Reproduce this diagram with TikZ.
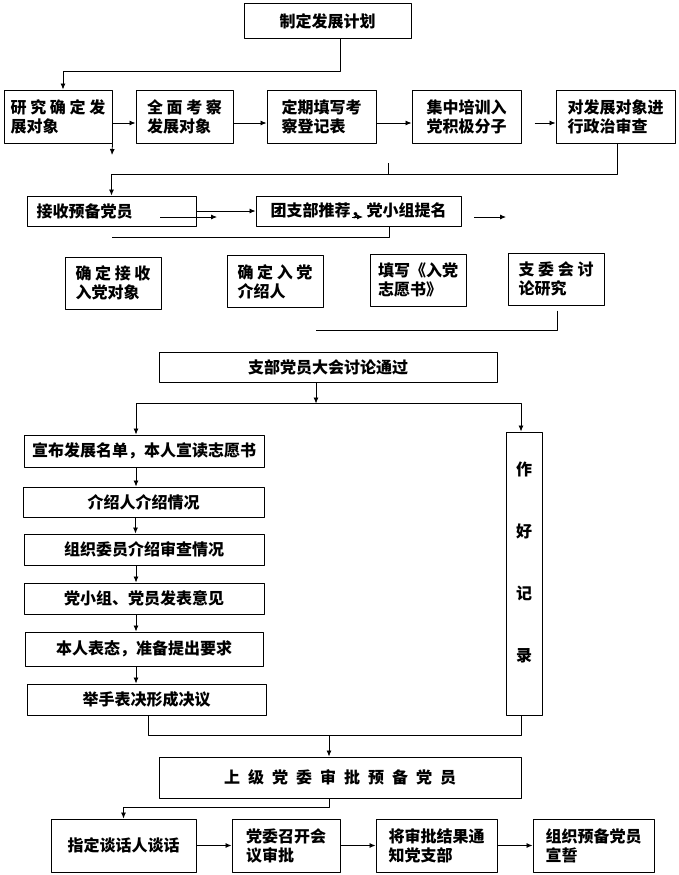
\documentclass[tikz,border=0pt]{standalone}
\usepackage{fontspec}
\setmainfont{Noto Sans CJK SC}
\usetikzlibrary{arrows.meta}
\def\gap{\hspace{8pt}}
\begin{document}
\begin{tikzpicture}[x=1pt,y=-1pt,font=\fontsize{16}{19}\selectfont\bfseries,line join=round,>={Latex[length=6pt,width=5pt]},
  box/.style={draw,line width=1pt,inner sep=0pt,align=left},
  every path/.append style={line width=0.8pt}]
\useasboundingbox (0,0) rectangle (678,875);
% boxes
\node[box,minimum width=167,minimum height=35] (plan) at (327.5,21.5) {制定发展计划};
\foreach \n/\x/\w/\txt in {r1a/58/108/{研 究 确 定 发\\展对象},r1b/184.5/97/{全 面 考 察\\发展对象},r1c/321.5/109/{定期填写考\\察登记表},r1d/466.5/109/{集中培训入\\党积极分子},r1e/615.5/119/{对发展对象进\\行政治审查}}
  \node[box,minimum width=\w,minimum height=53] (\n) at (\x,116.5) {\txt};
\node[box,minimum width=169,minimum height=30,text width=150pt] (r2a) at (111.5,211) {接收预备党员};
\node[box,minimum width=205,minimum height=30] (r2b) at (358.5,211) {团支部推荐，党小组提名};
\foreach \n/\x/\y/\txt in {r3a/113/283/{确 定 接 收\\入党对象},r3b/275/281.5/{确 定 入 党\\介绍人},r3c/418/280/{填写《入党\\志愿书》},r3d/556/279/{支 委 会 讨\\论研究}}
  \node[box,minimum width=96,minimum height=52] (\n) at (\x,\y) {\txt};
\node[box,minimum width=338,minimum height=30] (meeting) at (328,367) {支部党员大会讨论通过};
\foreach \n/\x/\y/\w/\h/\txt in {s1/144/451/240/32/{宣布发展名单，本人宣读志愿书},s2/143.5/502/241/30/{介绍人介绍情况},s3/144/549.5/240/31/{组织委员介绍审查情况},s4/144/598.5/240/31/{党小组、党员发表意见},s5/144/649/238/34/{本人表态，准备提出要求},s6/146.5/699.5/239/31/{举手表决形成决议}}
  \node[box,minimum width=\w,minimum height=\h] (\n) at (\x,\y) {\txt};
\node[box,align=center,minimum width=36,minimum height=283,text depth=24pt] (rec) at (524,573.5) {作\\[43pt]好\\[43pt]记\\[43pt]录};
\node[box,minimum width=362,minimum height=41] (approve) at (340,777.5) {上\gap{}级\gap{}党\gap{}委\gap{}审\gap{}批\gap{}预\gap{}备\gap{}党\gap{}员};
\foreach \n/\x/\w/\txt in {b1/123.5/145/{指定谈话人谈话},b2/286/108/{党委召开会\\议审批},b3/436.5/121/{将审批结果通\\知党支部},b4/593.5/121/{组织预备党员\\宣誓}}
  \node[box,minimum width=\w,minimum height=53] (\n) at (\x,845.5) {\txt};
% connectors
\draw[->] ([xshift=12.5pt]plan.south) -- ++(0,32) -| ([xshift=5pt]r1a.north);
\foreach \a/\b in {r1a/r1b,r1b/r1c,r1c/r1d}\draw[->] ([yshift=-6.5pt]\a.east) -- ([yshift=-6.5pt]\b.west);
\draw[->] ([xshift=13pt,yshift=-6.5pt]r1d.east) -- ([yshift=-6.5pt]r1e.west);
\coordinate (d1) at (112,155);
\draw[->] (r1a.south east) -- (d1);
\draw[->] ([xshift=1.5pt]r1e.south) -- ++(0,31) -| (r2a.north);
\coordinate (st) at (388,163);
\draw (st) -- ++(0,11);
\draw[->] (r2a.east) -- (r2b.west);
\foreach \i/\x/\X in {1/160/217,2/352/363,3/474/506}{\coordinate (p\i) at (\x,217); \coordinate (q\i) at (\X,217); \draw[->] (p\i) -- (q\i);}
\coordinate (g1) at (112,237);
\draw ([xshift=30.5pt]r2b.south) |- (g1);
\coordinate (g2) at (316,330);
\draw ([xshift=1pt,yshift=-5pt]r3d.south) |- (g2);
\draw[->] ([xshift=-12pt]meeting.south) -- ++(0,21) coordinate (split);
\draw[->] (split) -| ([xshift=-8pt]s1.north);
\draw[->] (split) -| ([xshift=-3pt]rec.north);
\foreach \a/\b in {s1/s2,s2/s3,s3/s4,s4/s5,s5/s6}{\path ([xshift=-8pt]\a.south) coordinate (t); \draw[->] (t) -- (t |- \b.north);}
\draw ([xshift=1.5pt]s6.south) -- ++(0,20) coordinate (join) -| ([xshift=-3pt]rec.south);
\path ([xshift=-11pt]approve.north) coordinate (apn);
\draw[->] (apn |- join) -- (apn);
\draw[->] ([xshift=-11pt]approve.south) -- ++(0,9) -| (b1.north);
\foreach \a/\b in {b1/b2,b2/b3,b3/b4}\draw[->] (\a) -- (\b);
\end{tikzpicture}
\end{document}
